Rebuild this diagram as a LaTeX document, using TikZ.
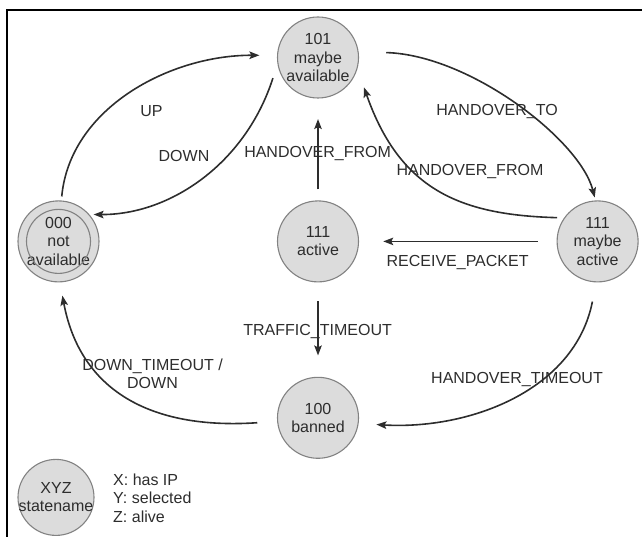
\documentclass[tikz,border=0pt]{standalone}
\usepackage{fontspec}
\setmainfont{Liberation Sans}
\usetikzlibrary{arrows.meta}
\definecolor{stfill}{RGB}{220,220,220}
\definecolor{stline}{RGB}{130,130,130}
\definecolor{ink}{RGB}{45,45,45}
\begin{document}
\begin{tikzpicture}[x=1pt,y=-1pt,
  every node/.style={font=\fontsize{16}{18.3}\selectfont, text=ink},
  state/.style={circle, fill=stfill, draw=stline, line width=1.1pt,
    minimum size=81pt, inner sep=-8pt, align=center},
  trans/.style={draw=ink, line width=1.6pt,
    -{Stealth[length=10pt,width=7.5pt,inset=2pt]}},
  lbl/.style={inner sep=0pt, align=center, anchor=base}]
\useasboundingbox (0,0) rectangle (642,537);

% frame
\draw[line width=1.2pt] (7,537) -- (7,10) -- (642,10);

% states
\node[state] (s101) at (318,57.5) {101\\maybe\\available};
\node[state] (s000) at (58.5,241.4) {000\\not\\available};
\draw[stline, line width=1.1pt] (s000.center) circle[radius=32pt];
\node[state] (sact) at (318,241.4) {111\\active};
\node[state] (smay) at (597.6,241.4) {111\\maybe\\active};
\node[state] (sban) at (318,417.8) {100\\banned};

% key
\node[state, minimum size=76pt] (skey) at (56,497.4) {XYZ\\statename};
\node[inner sep=0pt, align=left, anchor=west] (keytext) at (113,498)
  {X: has IP\\Y: selected\\Z: alive};

% transitions
\draw[trans, shorten <=4pt, shorten >=17.6pt]
  (s000.86) .. controls (70,108) and (170,55) .. (s101.177);
\draw[trans, shorten <=14.9pt, shorten >=4.1pt]
  (s101.189) .. controls (245.5,163.6) and (170,215) .. (s000.41);
\draw[trans, shorten <=11pt, shorten >=20.5pt] (sact.north) -- (s101.south);
\draw[trans, shorten <=27.6pt, shorten >=3pt]
  (s101.8) .. controls (470,55) and (580,140) .. (smay.93);
\draw[trans, shorten <=6.9pt, shorten >=19.7pt]
  (smay.145) .. controls (460,215) and (400,190) .. (s101.344);
\draw[trans, shorten <=19pt, shorten >=24.2pt] (smay.west) -- (sact.east);
\draw[trans, shorten <=18.8pt, shorten >=21.3pt] (sact.south) -- (sban.north);
\draw[trans, shorten <=19.5pt, shorten >=17.8pt]
  (smay.268) .. controls (575,390) and (470,430) .. (sban.352);
\draw[trans, shorten <=19.9pt, shorten >=13.4pt]
  (sban.185) .. controls (150,430) and (80,390) .. (s000.272);

% transition labels
\node[lbl] (lup)    at (151.5,116.1) {UP};
\node[lbl] (ldown)  at (184,162)     {DOWN};
\node[lbl] (lhfa)   at (317.6,157.9) {HANDOVER\_FROM};
\node[lbl] (lhto)   at (497,115.8)   {HANDOVER\_TO};
\node[lbl] (lhfm)   at (470,175.5)   {HANDOVER\_FROM};
\node[lbl] (lrcv)   at (457.6,266.5) {RECEIVE\_PACKET};
\node[lbl] (ltraf)  at (317.6,335)   {TRAFFIC\_TIMEOUT};
\node[lbl] (lhtime) at (517,383.9)   {HANDOVER\_TIMEOUT};
\node[inner sep=0pt, align=center] (ldt) at (152.5,373.5) {DOWN\_TIMEOUT /\\DOWN};
\end{tikzpicture}
\end{document}
